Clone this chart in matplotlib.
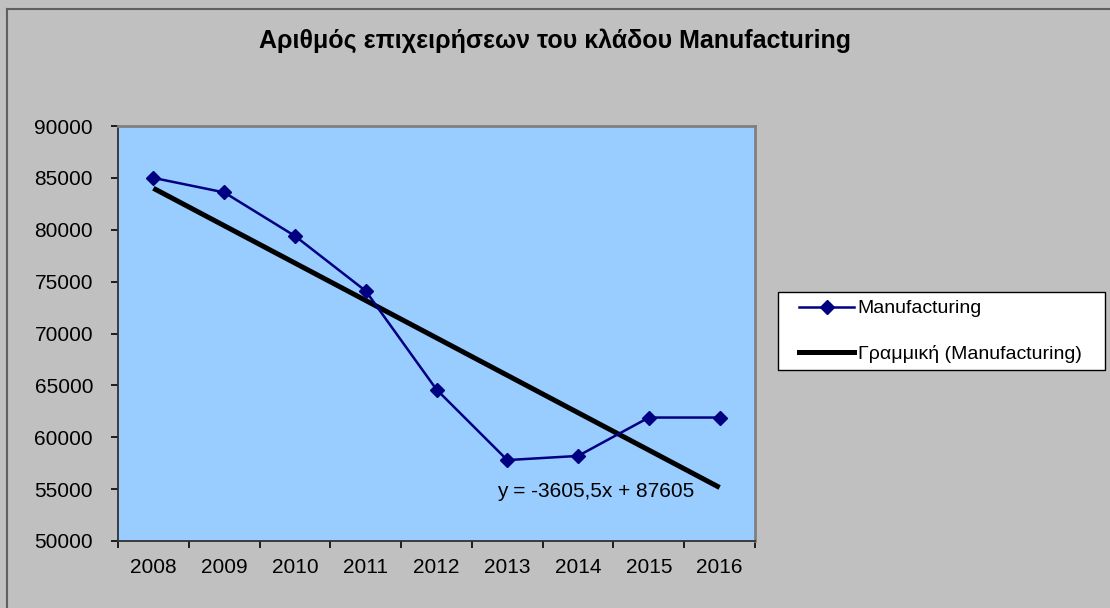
import numpy as np
import matplotlib
matplotlib.use("Agg")
import matplotlib.pyplot as plt
from matplotlib.lines import Line2D
from matplotlib.legend_handler import HandlerLine2D

# data
years = ["2008", "2009", "2010", "2011", "2012", "2013", "2014", "2015", "2016"]
firms = [85000, 83600, 79400, 74100, 64600, 57800, 58200, 61900, 61900]
slope, intercept = -3605.5, 87605
yticks = [50000, 55000, 60000, 65000, 70000, 75000, 80000, 85000, 90000]

plt.rcParams['font.family'] = ['Liberation Sans', 'DejaVu Sans']

fig = plt.figure(figsize=(11.1, 6.08), dpi=100, facecolor='#C0C0C0')
ax = fig.add_axes([118/1110, 1 - 541/608, 637/1110, 415/608])
ax.set_facecolor('#99CCFF')

x = np.arange(len(years))
trend = slope * (x + 1) + intercept

ax.plot(x, firms, color='#000080', lw=1.8, marker='D', markersize=7.5,
        markeredgecolor='#000080', markerfacecolor='#000080', zorder=3)
ax.plot(x, trend, color='black', lw=3.6, solid_capstyle='butt', zorder=2)

ax.text(6.25, 54800, "y = -3605,5x + 87605", ha='center', va='center', fontsize=15)

ax.set_xlim(-0.5, len(years) - 0.5)
ax.set_ylim(yticks[0], yticks[-1])
ax.set_yticks(yticks)
ax.set_yticklabels([str(v) for v in yticks])
ax.set_xticks(x)
ax.set_xticklabels(years)
ax.set_xticks(np.arange(len(years) + 1) - 0.5, minor=True)
ax.tick_params(axis='x', which='major', length=0, pad=12, labelsize=15)
ax.tick_params(axis='x', which='minor', length=5, width=1.2, color='black')
ax.tick_params(axis='y', length=5, width=1.2, color='black', pad=13, labelsize=15)
for side in ['top', 'right']:
    ax.spines[side].set_color('#808080')
    ax.spines[side].set_linewidth(2)
for side in ['left', 'bottom']:
    ax.spines[side].set_color('#303030')
    ax.spines[side].set_linewidth(1.3)

fig.text(0.5, 1 - 41/608, "Αριθμός επιχειρήσεων του κλάδου Manufacturing",
         ha='center', va='center', fontsize=18, fontweight='bold')

# left/top frame of the chart area
fig.add_artist(Line2D([7/1110, 7/1110], [0, 1 - 9/608], color='#606060', lw=1.5))
fig.add_artist(Line2D([7/1110, 1], [1 - 9/608, 1 - 9/608], color='#606060', lw=1.5))

handles = [Line2D([], [], color='#000080', lw=1.8, marker='D', markersize=7),
           Line2D([], [], color='black', lw=3.6)]
leg = fig.legend(handles, ["Manufacturing", "Γραμμική (Manufacturing)"],
                 loc='upper left',
                 bbox_to_anchor=(778/1110, 1 - 370/608, 327/1110, 78/608),
                 mode='expand',
                 handler_map={h: HandlerLine2D(xpad=0.7) for h in handles},
                 fontsize=14, frameon=True, fancybox=False, edgecolor='black',
                 facecolor='white', framealpha=1, handlelength=3.5,
                 handletextpad=0.2, labelspacing=1.4, borderpad=0.4,
                 borderaxespad=0)
leg.get_frame().set_linewidth(1)

fig.savefig("out.png", dpi=100, facecolor=fig.get_facecolor())
